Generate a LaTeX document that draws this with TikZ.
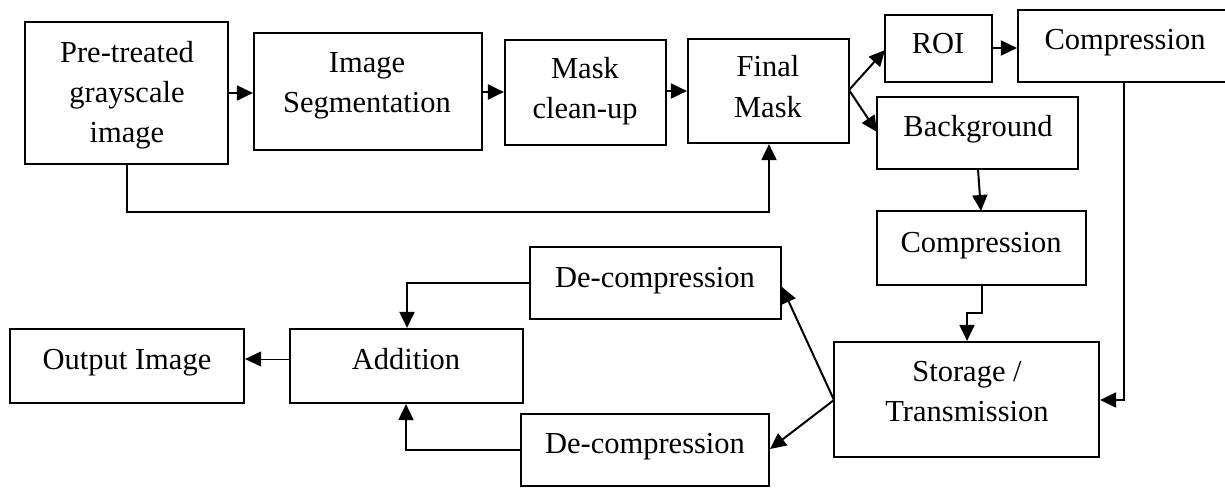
\documentclass[tikz,border=0pt]{standalone}
\usepackage{fontspec}
\setmainfont{Liberation Serif}
\usetikzlibrary{arrows.meta}
\begin{document}
\begin{tikzpicture}[x=1pt,y=-1pt,
  box/.style={draw=black,line width=2.2pt,rectangle,inner sep=0pt,fill=white},
  txt/.style={inner sep=0pt,align=center,anchor=base,font=\fontsize{30.5}{40}\selectfont},
  arr/.style={line width=2pt,-{Triangle[length=16pt,width=15pt]}},
  plain/.style={line width=2pt},
  thinarr/.style={line width=1pt,-{Triangle[length=16pt,width=15pt]}}]
\useasboundingbox (0,0) rectangle (1225,487);
\clip (0,0) rectangle (1225,487);
% boxes (corner coordinates in pixels)
\newcommand{\bx}[5]{\node[box,minimum width={#4-#2},minimum height={#5-#3}] (#1) at ({(#2+#4)/2},{(#3+#5)/2}) {};}
\bx{pre}{25}{22}{228}{164}
\bx{seg}{254}{33}{482}{150}
\bx{msk}{505}{40}{666}{145}
\bx{fin}{688}{39}{849}{143}
\bx{roi}{885}{15}{992}{82}
\bx{cpa}{1018}{10}{1232}{82}
\bx{bg}{877}{97}{1078}{169}
\bx{cpb}{877}{211}{1086}{285}
\bx{sto}{834}{342}{1099}{457}
\bx{dta}{530}{247}{781}{319}
\bx{dtb}{521}{414}{769}{486}
\bx{add}{290}{329}{523}{403}
\bx{out}{10}{329}{244}{403}
% texts
\node[txt] (tpre) at (127,142) {Pre-treated\\grayscale\\image};
\node[txt] (tseg) at (367,112) {Image\\Segmentation};
\node[txt] (tmsk) at (585,118) {Mask\\clean-up};
\node[txt] (tfin) at (768,117) {Final\\Mask};
\node[txt] (troi) at (938,53) {ROI};
\node[txt] (tcpa) at (1125,49) {Compression};
\node[txt] (tbg) at (978,136) {Background};
\node[txt] (tcpb) at (981,252) {Compression};
\node[txt] (tsto) at (967,421) {Storage /\\Transmission};
\node[txt] (tdta) at (655,287) {De-compression};
\node[txt] (tdtb) at (645,453) {De-compression};
\node[txt] (tadd) at (406,369) {Addition};
\node[txt] (tout) at (127,369) {Output Image};
% connectors
\coordinate (c1) at (0,93);
\coordinate (c2) at (0,92);
\coordinate (c3) at (0,91);
\draw[arr] (pre.east |- c1) -- (seg.west |- c1);
\draw[arr] (seg.east |- c2) -- (msk.west |- c2);
\draw[arr] (msk.east |- c3) -- (fin.west |- c3);
\coordinate (fb1) at (127,212);
\coordinate (fb2) at (769,212);
\draw[arr] (pre.south -| fb1) -- (fb1) -- (fb2) -- (fin.south -| fb2);
\coordinate (fo) at (849,90);
\coordinate (roiin) at (885,50);
\coordinate (bgin) at (877,132);
\draw[arr] (fo) -- (roiin);
\draw[arr] (fo) -- (bgin);
\coordinate (c4) at (0,48);
\draw[arr] (roi.east |- c4) -- (cpa.west |- c4);
\coordinate (bgo) at (978,169);
\coordinate (cpbi) at (981,211);
\draw[arr] (bgo) -- (cpbi);
\coordinate (k1) at (982,313);
\coordinate (k2) at (967,313);
\draw[arr] (cpb.south -| k1) -- (k1) -- (k2) -- (sto.north -| k2);
\coordinate (r1) at (1124,400);
\draw[arr] (cpa.south -| r1) -- (r1) -- (sto.east |- r1);
\coordinate (so) at (834,400);
\coordinate (dtai) at (782,287);
\coordinate (dtbi) at (770,449);
\draw[arr] (so) -- (dtai);
\draw[arr] (so) -- (dtbi);
\coordinate (a1) at (407,283);
\draw[arr] (dta.west |- a1) -- (a1) -- (add.north -| a1);
\coordinate (a2) at (406,450);
\draw[arr] (dtb.west |- a2) -- (a2) -- (add.south -| a2);
\coordinate (c5) at (0,359);
\draw[thinarr] (add.west |- c5) -- (out.east |- c5);
\end{tikzpicture}
\end{document}
